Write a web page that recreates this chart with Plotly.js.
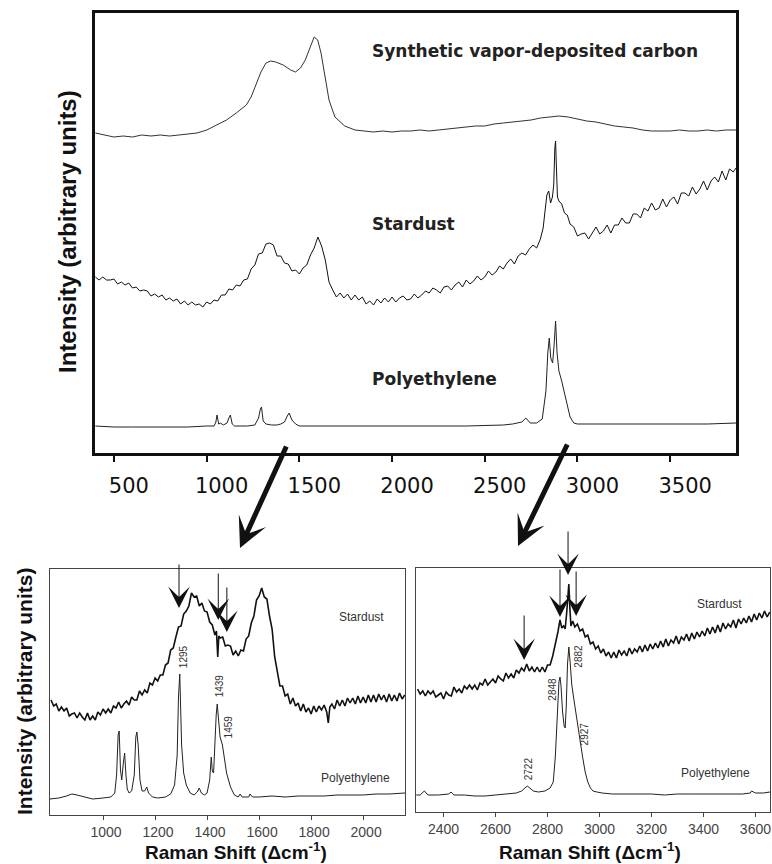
<!DOCTYPE html>
<html><head><meta charset="utf-8">
<script src="https://cdn.plot.ly/plotly-3.0.1.min.js"></script>
<style>html,body{margin:0;padding:0;background:#fff}#chart{width:772px;height:864px}</style>
</head><body><div id="chart"></div>
<script>
// ---------- TOP PANEL (overview spectra) ----------
var topCarbonX = [400,450,500,550,600,650,700,750,800,850,900,948,1001,1054,1107,1160,1214,1240,1267,1293,1320,1346,1373,1413,1453,1479,1506,1532,1559,1580,1599,1617,1639,1660,1692,1745,1800,1850,1900,1950,2000,2050,2100,2150,2200,2250,2300,2350,2400,2450,2500,2550,2600,2650,2700,2750,2800,2850,2900,2950,3000,3050,3100,3150,3200,3250,3300,3350,3400,3450,3500,3550,3600,3650,3700,3750,3800,3855];
var topCarbonY = [320,318,316,317,316,318,317,318,317,318,319,320,323,328,333,340,348,356,368,381,390,392,391,388,383,381,385,393,406,416,413,400,376,353,336,327,323,322,321,322,321,322,322,323,322,323,324,325,326,327,327,329,330,331,332,333,335,336,337,336,334,332,331,329,327,326,325,323,322,322,322,323,322,322,323,322,323,323];

var topStardustX = [
 400,420,440,460,480,500,520,540,560,580,
 600,620,640,660,680,700,720,740,760,780,
 800,820,840,860,880,900,920,940,960,980,
 1000,1020,1040,1060,1080,1100,1120,1140,1160,1180,
 1200,1220,1240,1260,1280,1300,1320,1340,1360,1380,
 1400,1420,1440,1460,1480,1500,1520,1540,1560,1580,
 1600,1620,1640,1660,1680,1700,1720,1740,1760,1780,
 1800,1820,1840,1860,1880,1900,1920,1940,1960,1980,
 2000,2020,2040,2060,2080,2100,2120,2140,2160,2180,
 2200,2220,2240,2260,2280,2300,2320,2340,2360,2380,
 2400,2420,2440,2460,2480,2500,2520,2540,2560,2580,
 2600,2620,2640,2660,2680,2700,2720,2740,2760,2780,
 2800,2815,2825,2835,2845,2855,2865,2872,2878,2882,
 2886,2892,2900,2915,2930,2945,2960,2980,3000,3020,
 3040,3060,3080,3100,3120,3140,3160,3180,3200,3220,
 3240,3260,3280,3300,3320,3340,3360,3380,3400,3420,
 3440,3460,3480,3500,3520,3540,3560,3580,3600,3620,
 3640,3660,3680,3700,3720,3740,3760,3780,3800,3820,
 3840,3855];
var topStardustY = [
 176,173,176,173,173,174,169,171,168,170,
 165,166,162,163,162,157,159,156,158,153,
 155,152,154,149,152,148,151,148,149,146,
 151,149,153,152,158,158,164,163,168,167,
 173,174,184,188,199,200,209,210,208,197,
 197,190,189,182,183,179,185,188,198,205,
 216,207,193,171,163,156,160,155,159,153,
 158,153,156,149,152,148,154,150,155,151,
 156,151,155,157,153,154,159,155,158,162,
 160,165,163,160,166,167,163,168,171,166,
 173,169,172,177,173,176,182,178,181,187,
 184,190,194,189,197,200,198,204,208,205,
 214,225,242,258,262,250,256,268,305,312,
 288,256,252,249,240,238,229,226,217,219,
 220,214,220,226,219,222,228,220,228,228,
 235,230,230,239,239,235,245,242,250,243,
 245,254,246,253,256,249,260,260,257,266,
 259,264,272,263,272,276,271,282,273,284,
 281,285];

var topPolyX = [400,500,600,700,800,900,1000,1040,1050,1056,1065,1075,1090,1110,1120,1128,1138,1150,1180,1220,1260,1280,1290,1296,1305,1320,1350,1380,1400,1420,1435,1445,1460,1480,1500,1600,1800,2000,2200,2400,2600,2650,2700,2722,2745,2780,2810,2830,2840,2848,2856,2866,2874,2882,2890,2900,2915,2930,2945,2960,2980,3000,3100,3300,3500,3700,3855];
var topPolyY = [27,26,26,26,26,26,27,27,31,38,29,30,28,30,35,38,29,27,27,27,28,35,44,46,32,29,28,28,29,31,37,40,33,29,27,27,27,27,27,27,28,29,31,35,30,30,34,62,100,115,95,90,108,132,100,82,72,60,50,36,30,29,29,29,29,29,30];

var topTicks = [500,1000,1500,2000,2500,3000,3500];
var topLabels = ["Synthetic vapor-deposited carbon", "Stardust", "Polyethylene"];

// ---------- BOTTOM-LEFT PANEL (first-order region) ----------
var leftStardustX = [
 800,810,820,830,840,850,860,870,880,890,
 900,910,920,930,940,950,960,970,980,990,
 1000,1010,1020,1030,1040,1050,1060,1070,1080,1090,
 1100,1110,1120,1130,1140,1150,1160,1170,1180,1190,
 1200,1210,1220,1230,1240,1250,1260,1270,1280,1290,
 1300,1310,1320,1330,1340,1350,1360,1370,1380,1390,
 1400,1410,1420,1430,1436,1441,1445,1450,1460,1470,
 1480,1490,1500,1510,1520,1530,1540,1550,1560,1570,
 1580,1590,1600,1610,1620,1630,1640,1650,1660,1670,
 1680,1690,1700,1710,1720,1730,1740,1750,1760,1770,
 1780,1790,1800,1810,1820,1830,1840,1850,1860,1866,
 1872,1880,1890,1900,1910,1920,1930,1940,1950,1960,
 1970,1980,1990,2000,2010,2020,2030,2040,2050,2060,
 2070,2080,2090,2100,2110,2120,2130,2140,2150,2160];
var leftStardustY = [
 115,109,111,104,108,104,107,99,101,102,
 97,102,98,95,102,95,99,95,103,100,
 106,102,106,102,109,107,113,107,111,114,
 110,118,115,115,124,120,125,122,132,130,
 137,134,140,140,150,152,165,167,178,188,
 189,201,204,209,222,218,219,209,212,204,
 203,193,190,180,184,158,179,177,178,169,
 170,169,160,164,159,165,164,176,179,192,
 199,215,219,227,218,216,199,186,158,145,
 129,129,119,121,111,117,109,112,104,111,
 103,107,101,109,103,109,105,110,103,92,
 108,111,106,115,109,115,109,117,112,117,
 111,119,112,118,112,120,113,120,113,121,
 115,120,113,121,114,120,114,122,116,120];

var leftPolyX = [796,830,860,880,900,930,960,1000,1030,1045,1052,1058,1062,1067,1072,1078,1083,1088,1093,1100,1110,1120,1126,1130,1135,1142,1150,1160,1168,1175,1190,1210,1240,1260,1275,1285,1290,1295,1298,1302,1310,1320,1335,1350,1362,1370,1378,1390,1400,1410,1416,1420,1425,1430,1435,1439,1443,1450,1459,1465,1475,1490,1505,1520,1527,1535,1560,1565,1575,1600,1650,1700,1750,1800,1850,1900,1950,2000,2050,2100,2161];
var leftPolyY = [16,17,19,21,20,18,16,17,18,22,40,80,84,45,35,52,62,40,26,22,24,40,78,83,70,35,24,24,28,22,18,17,18,21,30,60,118,141,110,70,42,30,22,20,23,27,22,20,22,35,58,44,42,75,100,111,95,78,70,58,42,28,20,18,21,18,18,21,18,18,19,18,19,19,19,20,20,20,21,21,22];

var leftTicks = [1000,1200,1400,1600,1800,2000];
var leftPeakText = ["1295","1439","1459"];
var leftPeakTextX = [1308,1447,1482];
var leftPeakTextY = [158,129,88];
var leftArrowX = [1292,1443,1476];
var leftArrowY = [207,195,183];
var leftArrowLen = [45,48,46];

// ---------- BOTTOM-RIGHT PANEL (C-H stretching region) ----------
var rightStardustX = [
 2300,2310,2320,2330,2340,2350,2360,2370,2380,2390,
 2400,2410,2420,2430,2440,2450,2460,2470,2480,2490,
 2500,2510,2520,2530,2540,2550,2560,2570,2580,2590,
 2600,2610,2620,2630,2640,2650,2660,2670,2680,2690,
 2700,2710,2720,2730,2740,2750,2760,2770,2780,2790,
 2800,2810,2820,2830,2840,2848,2855,2862,2868,2874,
 2878,2882,2886,2890,2897,2905,2915,2925,2935,2945,
 2955,2965,2975,2985,2995,3005,3015,3025,3035,3045,
 3055,3065,3075,3085,3095,3105,3115,3125,3135,3145,
 3155,3165,3175,3185,3195,3205,3215,3225,3235,3245,
 3255,3265,3275,3285,3295,3305,3315,3325,3335,3345,
 3355,3365,3375,3385,3395,3405,3415,3425,3435,3445,
 3455,3465,3475,3485,3495,3505,3515,3525,3535,3545,
 3555,3565,3575,3585,3595,3605,3615,3625,3635,3645,
 3655];
var rightStardustY = [
 123,118,121,116,121,118,121,115,117,119,
 113,120,117,116,125,120,123,119,126,123,
 127,123,127,122,129,127,133,127,130,133,
 129,136,133,131,139,134,138,134,142,139,
 144,141,148,141,145,140,145,140,145,140,
 147,147,156,167,180,192,184,186,183,200,
 216,228,204,186,191,185,188,181,183,175,
 177,168,170,163,166,159,163,156,160,154,
 160,154,162,157,161,156,164,158,163,160,
 166,160,167,161,168,163,169,164,171,165,
 173,166,172,169,176,168,175,172,178,171,
 179,173,180,175,181,176,184,178,185,179,
 187,180,189,183,188,185,192,184,193,188,
 194,189,196,190,198,192,199,194,201,195,
 200];

var rightPolyX = [2295,2310,2326,2340,2380,2420,2429,2440,2480,2520,2560,2600,2640,2680,2700,2712,2722,2732,2745,2765,2790,2810,2822,2830,2838,2844,2848,2852,2858,2864,2868,2872,2877,2882,2887,2893,2900,2910,2920,2927,2935,2945,2955,2965,2975,2990,3010,3050,3100,3150,3200,3250,3300,3350,3400,3450,3500,3550,3580,3585,3600,3630,3656];
var rightPolyY = [17,17,21,17,17,18,20,17,17,16,16,17,18,19,21,24,26,24,21,20,21,24,30,55,100,130,135,126,100,86,84,105,148,165,150,128,115,97,78,66,55,40,30,24,21,20,19,18,18,18,18,17,18,18,18,18,18,18,19,21,19,19,20];

var rightTicks = [2400,2600,2800,3000,3200,3400,3600];
var rightPeakText = ["2882","2848","2927","2722"];
var rightPeakTextX = [2916,2816,2942,2726];
var rightPeakTextY = [156,123,78,43];
var rightArrowX = [2879,2848,2910,2710];
var rightArrowY = [237,195,196,152];
var rightArrowLen = [45,49,46,46];

var seriesNames = ["Stardust", "Polyethylene"];

// ---------- traces ----------
function line(x, y, xa, ya, w, c) {
  return {x: x, y: y, xaxis: xa, yaxis: ya, type: 'scatter', mode: 'lines',
    line: {color: c, width: w}, hoverinfo: 'skip', showlegend: false};
}
var data = [
  line(topCarbonX, topCarbonY, 'x', 'y', 1, '#333'),
  line(topStardustX, topStardustY, 'x', 'y', 1, '#111'),
  line(topPolyX, topPolyY, 'x', 'y', 1, '#222'),
  line(leftStardustX, leftStardustY, 'x2', 'y2', 1.6, '#111'),
  line(leftPolyX, leftPolyY, 'x2', 'y2', 1, '#222'),
  line(rightStardustX, rightStardustY, 'x3', 'y3', 1.6, '#111'),
  line(rightPolyX, rightPolyY, 'x3', 'y3', 1, '#222')
];

// ---------- annotations ----------
var ann = [];
var topLabelY = [0.9410, 0.7407, 0.5613];
topLabels.forEach(function (t, i) {
  ann.push({text: '<b>' + t + '</b>', xref: 'paper', yref: 'paper', x: 370/772, y: topLabelY[i],
    xanchor: 'left', yanchor: 'middle', showarrow: false,
    font: {family: 'DejaVu Sans', size: 17, color: '#222'}});
});
ann.push({text: '<b>Intensity (arbitrary units)</b>', xref: 'paper', yref: 'paper', x: 67/772, y: 1 - 232/864,
  textangle: -90, showarrow: false, xanchor: 'center', yanchor: 'middle',
  font: {family: 'Liberation Sans, Arial', size: 24, color: '#111'}});
ann.push({text: '<b>Intensity (arbitrary units)</b>', xref: 'paper', yref: 'paper', x: 24/772, y: 1 - 692/864,
  textangle: -90, showarrow: false, xanchor: 'center', yanchor: 'middle',
  font: {family: 'Liberation Sans, Arial', size: 21, color: '#111'}});
[236, 590].forEach(function (cx) {
  ann.push({text: '<b>Raman Shift (\u0394cm<sup>-1</sup>)</b>', xref: 'paper', yref: 'paper', x: cx/772, y: 1 - 851/864,
    showarrow: false, xanchor: 'center', yanchor: 'middle',
    font: {family: 'Liberation Sans, Arial', size: 19, color: '#111'}});
});
// big zoom arrows from the overview to the detail panels
ann.push({text: '', xref: 'paper', yref: 'paper', x: 240/772, y: 1 - 548/864, ax: 47, ay: -103,
  showarrow: true, arrowhead: 3, arrowwidth: 5, arrowsize: 1.0, arrowcolor: '#111'});
ann.push({text: '', xref: 'paper', yref: 'paper', x: 518/772, y: 1 - 546/864, ax: 50, ay: -103,
  showarrow: true, arrowhead: 3, arrowwidth: 5, arrowsize: 1.0, arrowcolor: '#111'});
// series labels in the detail panels
ann.push({text: seriesNames[0], xref: 'x2', yref: 'y2', x: 1992, y: 198, showarrow: false,
  font: {family: 'Liberation Sans, Arial', size: 12, color: '#333'}});
ann.push({text: seriesNames[1], xref: 'x2', yref: 'y2', x: 1969, y: 37, showarrow: false,
  font: {family: 'Liberation Sans, Arial', size: 12, color: '#333'}});
ann.push({text: seriesNames[0], xref: 'x3', yref: 'y3', x: 3463, y: 208, showarrow: false,
  font: {family: 'Liberation Sans, Arial', size: 12, color: '#333'}});
ann.push({text: seriesNames[1], xref: 'x3', yref: 'y3', x: 3448, y: 39, showarrow: false,
  font: {family: 'Liberation Sans, Arial', size: 12, color: '#333'}});
// peak labels
leftPeakText.forEach(function (t, i) {
  ann.push({text: t, xref: 'x2', yref: 'y2', x: leftPeakTextX[i], y: leftPeakTextY[i], textangle: -90,
    showarrow: false, font: {family: 'Liberation Sans, Arial', size: 10, color: '#333'}});
});
rightPeakText.forEach(function (t, i) {
  ann.push({text: t, xref: 'x3', yref: 'y3', x: rightPeakTextX[i], y: rightPeakTextY[i], textangle: -90,
    showarrow: false, font: {family: 'Liberation Sans, Arial', size: 10, color: '#333'}});
});
// small arrows marking features of the Stardust spectrum
leftArrowX.forEach(function (v, i) {
  ann.push({text: '', xref: 'x2', yref: 'y2', x: v, y: leftArrowY[i], ax: 0, ay: -leftArrowLen[i],
    showarrow: true, arrowhead: 3, arrowwidth: 1, arrowsize: 3.6, arrowcolor: '#111'});
});
rightArrowX.forEach(function (v, i) {
  ann.push({text: '', xref: 'x3', yref: 'y3', x: v, y: rightArrowY[i], ax: 0, ay: -rightArrowLen[i],
    showarrow: true, arrowhead: 3, arrowwidth: 1, arrowsize: 3.6, arrowcolor: '#111'});
});

function tickStrings(a) { return a.map(function (v) { return String(v); }); }

var layout = {
  width: 772, height: 864,
  margin: {l: 0, r: 0, t: 0, b: 0},
  paper_bgcolor: '#fff', plot_bgcolor: '#fff',
  showlegend: false,
  xaxis: {domain: [95/772, 736/772], anchor: 'y', range: [398, 3855],
    tickmode: 'array', tickvals: topTicks, ticktext: tickStrings(topTicks),
    ticks: 'outside', ticklen: 6, tickwidth: 2, tickcolor: '#111',
    showline: true, linewidth: 3, linecolor: '#111', mirror: true,
    showgrid: false, zeroline: false, ticklabelshift: 15, ticklabelstandoff: 6,
    tickfont: {family: 'DejaVu Sans', size: 21, color: '#111'}},
  yaxis: {domain: [1 - 453/864, 1 - 13/864], anchor: 'x', range: [0, 440],
    showticklabels: false, ticks: '', showline: true, linewidth: 3, linecolor: '#111', mirror: true,
    showgrid: false, zeroline: false},
  xaxis2: {domain: [50/772, 405/772], anchor: 'y2', range: [796, 2161],
    tickmode: 'array', tickvals: leftTicks, ticktext: tickStrings(leftTicks),
    ticks: 'outside', ticklen: 4, tickwidth: 1, tickcolor: '#444',
    showline: true, linewidth: 1, linecolor: '#444', mirror: true,
    showgrid: false, zeroline: false, ticklabelshift: 3,
    tickfont: {family: 'Liberation Sans, Arial', size: 14, color: '#444'}},
  yaxis2: {domain: [1 - 815/864, 1 - 569/864], anchor: 'x2', range: [0, 246],
    showticklabels: false, ticks: '', showline: true, linewidth: 1, linecolor: '#444', mirror: true,
    showgrid: false, zeroline: false},
  xaxis3: {domain: [416/772, 770/772], anchor: 'y3', range: [2294, 3656],
    tickmode: 'array', tickvals: rightTicks, ticktext: tickStrings(rightTicks),
    ticks: 'outside', ticklen: 4, tickwidth: 1, tickcolor: '#444',
    showline: true, linewidth: 1, linecolor: '#444', mirror: true,
    showgrid: false, zeroline: false,
    tickfont: {family: 'Liberation Sans, Arial', size: 14, color: '#444'}},
  yaxis3: {domain: [1 - 812/864, 1 - 568/864], anchor: 'x3', range: [0, 244],
    showticklabels: false, ticks: '', showline: true, linewidth: 1, linecolor: '#444', mirror: true,
    showgrid: false, zeroline: false},
  annotations: ann
};

Plotly.newPlot('chart', data, layout, {staticPlot: true, displayModeBar: false});
</script></body></html>
